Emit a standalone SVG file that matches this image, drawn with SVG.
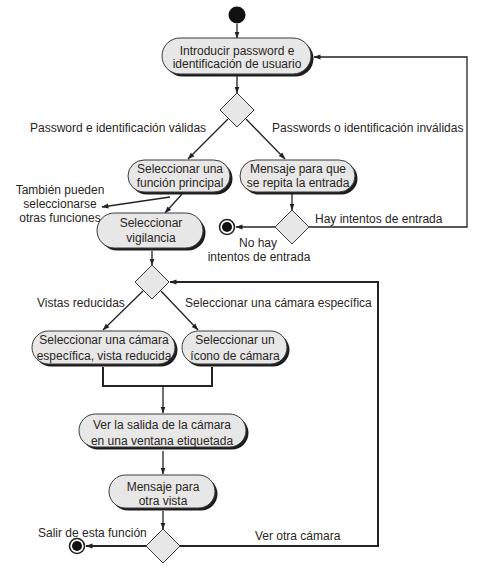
<svg xmlns="http://www.w3.org/2000/svg" width="493" height="583" viewBox="0 0 493 583">
<defs>
<marker id="arr" markerWidth="7" markerHeight="6" refX="6.5" refY="3" orient="auto" markerUnits="userSpaceOnUse">
<path d="M0,0.5 L7,3 L0,5.5 z" fill="#222"/>
</marker>
<style>
text{font-family:"Liberation Sans",Arial,sans-serif;font-size:12px;fill:#2a2522}
.c{text-anchor:middle}
.pill{fill:#e7e7e7;stroke:#3a3a3a;stroke-width:1}
.sh{fill:#1c1c1c}
.dia{fill:#e7e7e7;stroke:#3a3a3a;stroke-width:1}
.ln{fill:none;stroke:#222;stroke-width:1.3}
.lnb{fill:none;stroke:#222;stroke-width:2}
</style>
</defs>
<rect width="493" height="583" fill="#fff"/>

<g id="connectors">
<line class="ln" x1="237" y1="24" x2="237" y2="38" marker-end="url(#arr)"/>
<line class="ln" x1="237" y1="76" x2="237" y2="93" marker-end="url(#arr)"/>
<line class="ln" x1="228" y1="119" x2="188" y2="159" marker-end="url(#arr)"/>
<line class="ln" x1="246" y1="119" x2="285" y2="159" marker-end="url(#arr)"/>
<line class="ln" x1="182" y1="194" x2="165" y2="213" marker-end="url(#arr)"/>
<line class="ln" x1="170" y1="197" x2="102" y2="207" marker-end="url(#arr)"/>
<line class="ln" x1="292" y1="194" x2="292" y2="210" marker-end="url(#arr)"/>
<line class="ln" x1="275" y1="227" x2="236" y2="227" marker-end="url(#arr)"/>
<polyline class="ln" points="309,227 467,227 467,57 314,57" marker-end="url(#arr)"/>
<line class="ln" x1="152" y1="251" x2="152" y2="265" marker-end="url(#arr)"/>
<line class="ln" x1="143" y1="291" x2="103" y2="330" marker-end="url(#arr)"/>
<line class="ln" x1="161" y1="291" x2="198" y2="330" marker-end="url(#arr)"/>
<polyline class="lnb" points="103,367 103,386 212,386 212,367"/>
<line class="ln" x1="163" y1="386" x2="163" y2="413" marker-end="url(#arr)"/>
<line class="ln" x1="163" y1="451" x2="163" y2="474" marker-end="url(#arr)"/>
<line class="ln" x1="163" y1="511" x2="163" y2="529" marker-end="url(#arr)"/>
<line class="lnb" x1="146" y1="546" x2="86" y2="546" marker-end="url(#arr)"/>
<polyline class="lnb" points="180,546 378,546 378,282 170,282" marker-end="url(#arr)"/>
</g>

<g id="labels">
<text x="30" y="132">Password e identificación válidas</text>
<text x="272" y="132">Passwords o identificación inválidas</text>
<text class="c" x="60" y="194">También pueden</text>
<text class="c" x="60" y="208">seleccionarse</text>
<text class="c" x="60" y="222">otras funciones</text>
<text x="315" y="223">Hay intentos de entrada</text>
<text class="c" x="258" y="247">No hay</text>
<text class="c" x="259" y="261">intentos de entrada</text>
<text x="37" y="307">Vistas reducidas</text>
<text x="185" y="307">Seleccionar una cámara específica</text>
<text x="38" y="537">Salir de esta función</text>
<text x="255" y="540">Ver otra cámara</text>
</g>

<g id="start"><circle cx="237" cy="15" r="8.5" fill="#111"/></g>

<g id="n1">
<rect class="sh" x="164.5" y="40.5" width="149" height="36" rx="18"/>
<rect class="pill" x="162" y="38" width="149" height="36" rx="18"/>
<text class="c" x="237" y="55">Introducir password e</text>
<text class="c" x="237" y="68">identificación de usuario</text>
</g>

<g id="d1"><polygon class="dia" points="237,93 254,110 237,127 220,110"/></g>

<g id="n2">
<rect class="sh" x="130.5" y="162.5" width="102" height="32" rx="16"/>
<rect class="pill" x="128" y="160" width="102" height="32" rx="16"/>
<text class="c" x="180" y="173">Seleccionar una</text>
<text class="c" x="180" y="187">función principal</text>
</g>

<g id="n3">
<rect class="sh" x="242.5" y="162.5" width="115" height="32" rx="16"/>
<rect class="pill" x="240" y="160" width="115" height="32" rx="16"/>
<text class="c" x="298" y="173">Mensaje para que</text>
<text class="c" x="298" y="187">se repita la entrada</text>
</g>

<g id="d2"><polygon class="dia" points="292,210 309,227 292,244 275,227"/></g>

<g id="end1">
<circle cx="227" cy="227" r="7.5" fill="#fff" stroke="#222" stroke-width="1.6"/>
<circle cx="227" cy="227" r="5" fill="#111"/>
</g>

<g id="n4">
<rect class="sh" x="99.5" y="215.5" width="106" height="35" rx="17.5"/>
<rect class="pill" x="97" y="213" width="106" height="35" rx="17.5"/>
<text class="c" x="151" y="227">Seleccionar</text>
<text class="c" x="151" y="242">vigilancia</text>
</g>

<g id="d3"><polygon class="dia" points="152,265 169,282 152,299 135,282"/></g>

<g id="n5">
<rect class="sh" x="34.5" y="333.5" width="143" height="33" rx="16.5"/>
<rect class="pill" x="32" y="331" width="143" height="33" rx="16.5"/>
<text class="c" x="104" y="344">Seleccionar una cámara</text>
<text class="c" x="104" y="360">específica, vista reducida</text>
</g>

<g id="n6">
<rect class="sh" x="184.5" y="333.5" width="105" height="33" rx="16.5"/>
<rect class="pill" x="182" y="331" width="105" height="33" rx="16.5"/>
<text class="c" x="235" y="344">Seleccionar un</text>
<text class="c" x="235" y="360">ícono de cámara</text>
</g>

<g id="n7">
<rect class="sh" x="81.5" y="416.5" width="167" height="33" rx="16.5"/>
<rect class="pill" x="79" y="414" width="167" height="33" rx="16.5"/>
<text class="c" x="162" y="429">Ver la salida de la cámara</text>
<text class="c" x="162" y="445">en una ventana etiquetada</text>
</g>

<g id="n8">
<rect class="sh" x="111.5" y="477.5" width="106" height="33" rx="16.5"/>
<rect class="pill" x="109" y="475" width="106" height="33" rx="16.5"/>
<text class="c" x="163" y="491">Mensaje para</text>
<text class="c" x="163" y="505">otra vista</text>
</g>

<g id="d4"><polygon class="dia" points="163,529 180,546 163,563 146,546"/></g>

<g id="end2">
<circle cx="77" cy="546" r="7.5" fill="#fff" stroke="#222" stroke-width="1.6"/>
<circle cx="77" cy="546" r="5" fill="#111"/>
</g>
</svg>
